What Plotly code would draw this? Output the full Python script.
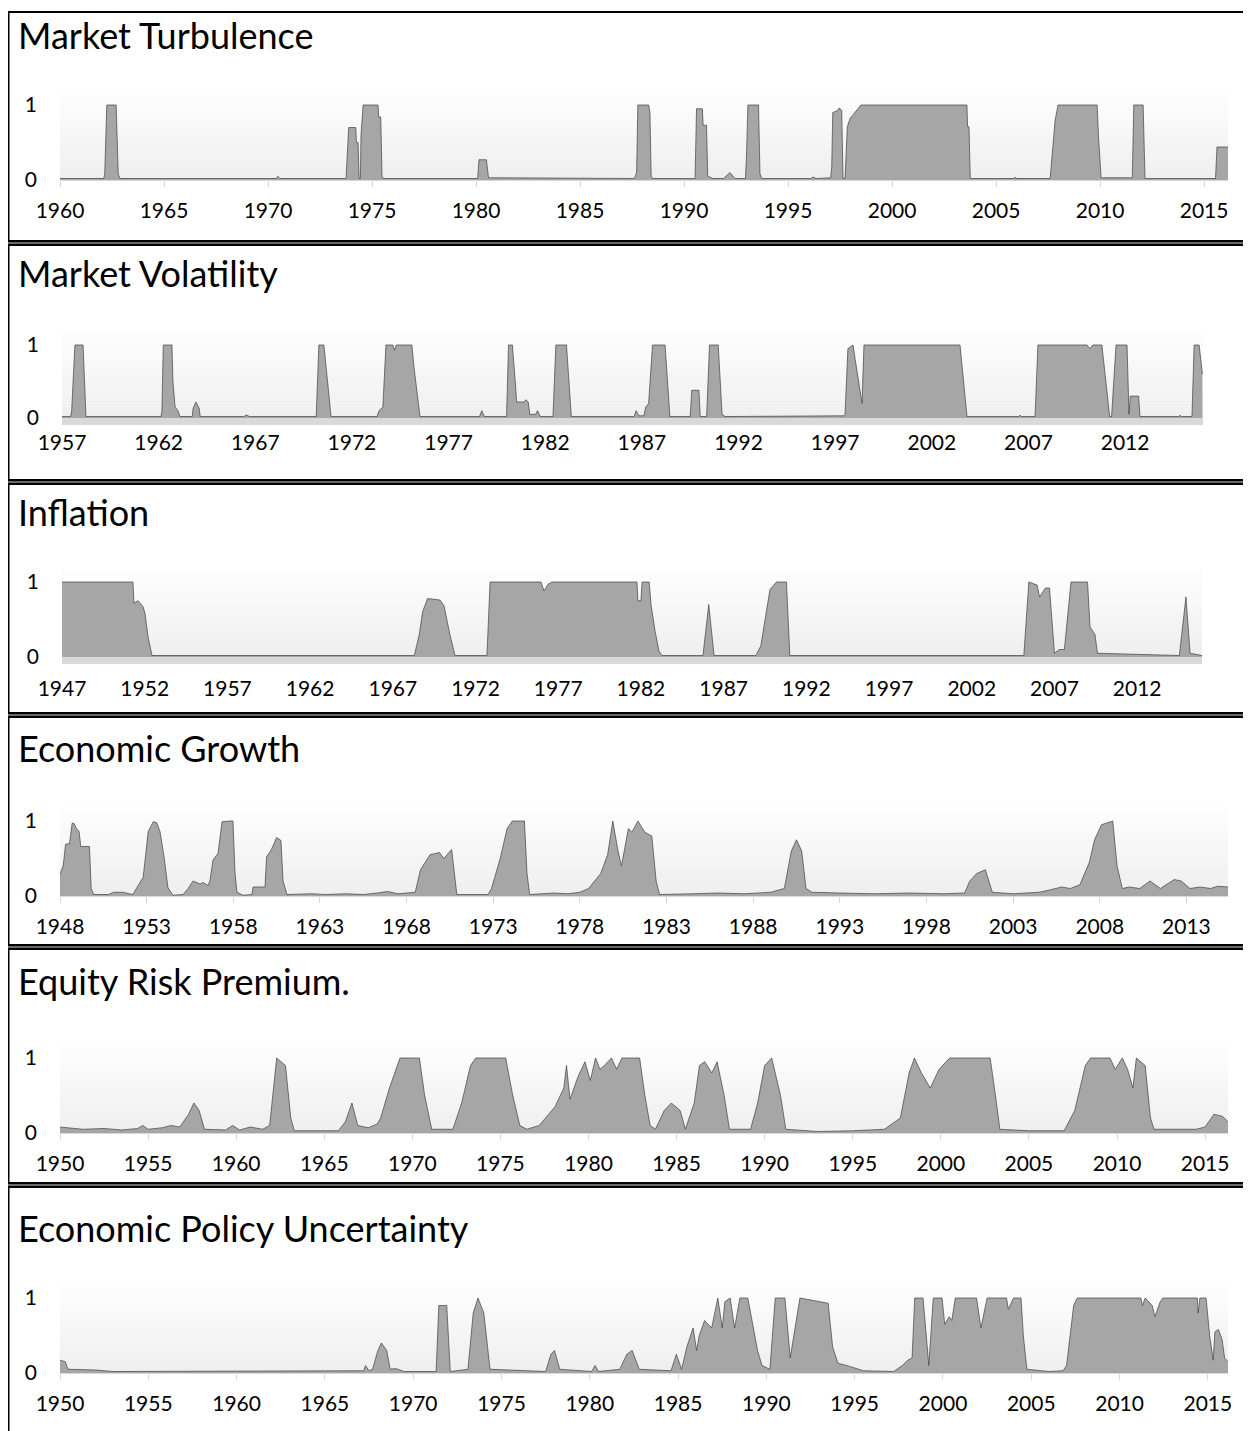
import plotly.graph_objects as go

# ---------------- data (decimal year, regime probability) ----------------
turbulence = [
    (1960.0, 0.02), (1962.1, 0.02), (1962.15, 0.08), (1962.25, 1.0), (1962.7, 1.0), (1962.8, 0.08),
    (1962.88, 0.02), (1970.4, 0.02), (1970.48, 0.05), (1970.56, 0.02), (1973.75, 0.02), (1973.8, 0.3),
    (1973.88, 0.7), (1974.22, 0.7), (1974.25, 0.5), (1974.33, 0.5), (1974.38, 0.02), (1974.44, 0.02),
    (1974.47, 0.6), (1974.57, 1.0), (1975.29, 1.0), (1975.32, 0.84), (1975.42, 0.84), (1975.48, 0.05),
    (1975.55, 0.02), (1980.08, 0.02), (1980.14, 0.27), (1980.5, 0.27), (1980.6, 0.03), (1987.62, 0.02),
    (1987.72, 0.1), (1987.78, 1.0), (1988.3, 1.0), (1988.36, 0.9), (1988.42, 0.05), (1988.5, 0.02),
    (1990.53, 0.02), (1990.6, 0.95), (1990.88, 0.95), (1990.92, 0.73), (1991.08, 0.73), (1991.14, 0.05),
    (1991.4, 0.02), (1991.9, 0.02), (1992.2, 0.1), (1992.45, 0.02), (1992.95, 0.02), (1993.0, 0.3),
    (1993.07, 1.0), (1993.58, 1.0), (1993.65, 0.08), (1993.75, 0.02), (1996.1, 0.02), (1996.2, 0.04),
    (1996.35, 0.02), (1997.05, 0.03), (1997.1, 0.17), (1997.15, 0.9), (1997.4, 0.93), (1997.45, 0.96),
    (1997.58, 0.93), (1997.64, 0.02), (1997.74, 0.02), (1997.85, 0.71), (1997.98, 0.82), (1998.1, 0.86),
    (1998.5, 1.0), (2003.6, 1.0), (2003.63, 0.71), (2003.7, 0.71), (2003.76, 0.02), (2005.85, 0.02),
    (2005.9, 0.04), (2005.95, 0.02), (2007.6, 0.02), (2007.84, 0.8), (2007.98, 1.0), (2009.86, 1.0),
    (2009.92, 0.6), (2010.05, 0.03), (2011.55, 0.03), (2011.62, 1.0), (2012.07, 1.0), (2012.16, 0.02),
    (2015.55, 0.02), (2015.62, 0.44), (2016.15, 0.44),
]

volatility = [
    (1957.0, 0.02), (1957.45, 0.02), (1957.5, 0.1), (1957.67, 1.0), (1958.09, 1.0), (1958.24, 0.02),
    (1962.12, 0.02), (1962.17, 0.1), (1962.24, 1.0), (1962.69, 1.0), (1962.74, 0.5), (1962.85, 0.15),
    (1963.0, 0.1), (1963.1, 0.02), (1963.74, 0.02), (1963.78, 0.13), (1963.93, 0.22), (1964.1, 0.13),
    (1964.15, 0.02), (1966.4, 0.02), (1966.55, 0.04), (1966.7, 0.02), (1970.15, 0.02), (1970.29, 1.0),
    (1970.55, 1.0), (1970.92, 0.02), (1973.3, 0.02), (1973.4, 0.1), (1973.6, 0.15), (1973.76, 1.0),
    (1974.12, 1.0), (1974.2, 0.93), (1974.3, 1.0), (1975.1, 1.0), (1975.21, 0.7), (1975.37, 0.35),
    (1975.52, 0.02), (1978.6, 0.02), (1978.72, 0.1), (1978.85, 0.02), (1980.0, 0.02), (1980.1, 1.0),
    (1980.3, 1.0), (1980.45, 0.5), (1980.52, 0.22), (1980.9, 0.22), (1981.0, 0.25), (1981.12, 0.22),
    (1981.2, 0.05), (1981.5, 0.05), (1981.6, 0.1), (1981.75, 0.02), (1982.4, 0.02), (1982.55, 1.0),
    (1983.1, 1.0), (1983.35, 0.02), (1986.6, 0.02), (1986.7, 0.1), (1986.85, 0.03), (1987.1, 0.03),
    (1987.2, 0.15), (1987.35, 0.2), (1987.55, 1.0), (1988.2, 1.0), (1988.45, 0.02), (1989.5, 0.02),
    (1989.58, 0.38), (1989.95, 0.38), (1990.02, 0.02), (1990.35, 0.02), (1990.5, 1.0), (1990.95, 1.0),
    (1991.15, 0.05), (1991.3, 0.02), (1997.45, 0.03), (1997.51, 0.05), (1997.66, 0.95), (1997.92, 1.0),
    (1998.39, 0.2), (1998.49, 1.0), (2003.46, 1.0), (2003.82, 0.02), (2006.5, 0.02), (2006.56, 0.04),
    (2006.62, 0.02), (2007.34, 0.02), (2007.49, 1.0), (2010.03, 1.0), (2010.18, 0.95), (2010.33, 1.0),
    (2010.8, 1.0), (2011.2, 0.02), (2011.3, 0.02), (2011.53, 1.0), (2012.1, 1.0), (2012.2, 0.05),
    (2012.27, 0.3), (2012.7, 0.3), (2012.77, 0.02), (2014.8, 0.02), (2014.85, 0.04), (2014.9, 0.02),
    (2015.46, 0.02), (2015.57, 1.0), (2015.83, 1.0), (2016.0, 0.6),
]

inflation = [
    (1947.0, 1.0), (1951.29, 1.0), (1951.35, 0.72), (1951.6, 0.75), (1951.9, 0.67), (1952.02, 0.58),
    (1952.2, 0.27), (1952.44, 0.02), (1968.3, 0.02), (1968.6, 0.3), (1968.8, 0.6), (1969.1, 0.78),
    (1969.85, 0.76), (1970.1, 0.68), (1970.45, 0.3), (1970.76, 0.02), (1972.69, 0.02), (1972.88, 1.0),
    (1975.96, 1.0), (1976.14, 0.88), (1976.38, 0.97), (1976.63, 1.0), (1981.76, 1.0), (1981.82, 0.75),
    (1982.0, 0.75), (1982.07, 1.0), (1982.5, 1.0), (1982.61, 0.7), (1982.85, 0.35), (1983.09, 0.08),
    (1983.27, 0.02), (1985.75, 0.02), (1986.1, 0.7), (1986.42, 0.02), (1988.95, 0.02), (1989.25, 0.15),
    (1989.8, 0.9), (1990.2, 1.0), (1990.8, 1.0), (1991.0, 0.02), (2005.15, 0.02), (2005.45, 1.0),
    (2005.95, 0.96), (2006.1, 0.8), (2006.45, 0.92), (2006.7, 0.92), (2007.0, 0.05), (2007.3, 0.1),
    (2007.6, 0.1), (2008.0, 1.0), (2009.0, 1.0), (2009.15, 0.4), (2009.45, 0.3), (2009.6, 0.05),
    (2014.55, 0.02), (2014.95, 0.8), (2015.2, 0.05), (2015.92, 0.02),
]

growth = [
    (1948.0, 0.29), (1948.19, 0.41), (1948.32, 0.69), (1948.55, 0.7), (1948.7, 0.97), (1948.8, 0.97),
    (1948.95, 0.9), (1949.1, 0.86), (1949.2, 0.66), (1949.7, 0.66), (1949.8, 0.1), (1949.95, 0.02),
    (1950.8, 0.02), (1951.1, 0.05), (1951.6, 0.05), (1951.9, 0.03), (1952.2, 0.02), (1952.8, 0.25),
    (1953.09, 0.86), (1953.38, 0.99), (1953.58, 0.98), (1953.77, 0.86), (1954.0, 0.53), (1954.23, 0.11),
    (1954.52, 0.01), (1955.1, 0.02), (1955.39, 0.1), (1955.68, 0.2), (1956.08, 0.16), (1956.25, 0.18),
    (1956.54, 0.14), (1956.65, 0.2), (1956.83, 0.48), (1957.12, 0.57), (1957.35, 0.99), (1957.81, 1.0),
    (1957.98, 1.0), (1958.1, 0.31), (1958.21, 0.05), (1958.56, 0.01), (1959.08, 0.02), (1959.14, 0.12),
    (1959.83, 0.12), (1959.92, 0.52), (1960.2, 0.62), (1960.5, 0.78), (1960.75, 0.74), (1960.87, 0.2),
    (1961.1, 0.02), (1962.5, 0.03), (1963.3, 0.02), (1964.5, 0.03), (1965.5, 0.02), (1966.3, 0.04),
    (1966.9, 0.06), (1967.5, 0.03), (1968.5, 0.05), (1968.8, 0.35), (1969.35, 0.55), (1969.9, 0.58),
    (1970.15, 0.5), (1970.6, 0.62), (1970.9, 0.02), (1972.7, 0.02), (1972.9, 0.1), (1973.4, 0.5),
    (1973.8, 0.9), (1974.1, 1.0), (1974.8, 1.0), (1974.95, 0.3), (1975.1, 0.02), (1976.5, 0.04),
    (1977.3, 0.03), (1978.0, 0.05), (1978.5, 0.1), (1979.2, 0.3), (1979.6, 0.55), (1979.9, 1.0),
    (1980.2, 0.6), (1980.4, 0.4), (1980.8, 0.9), (1981.0, 0.85), (1981.35, 1.0), (1981.75, 0.85),
    (1982.15, 0.8), (1982.4, 0.2), (1982.6, 0.02), (1984.5, 0.03), (1986.0, 0.04), (1987.5, 0.03),
    (1989.0, 0.05), (1989.8, 0.1), (1990.2, 0.6), (1990.5, 0.75), (1990.8, 0.6), (1991.05, 0.1),
    (1991.4, 0.05), (1993.0, 0.04), (1995.0, 0.03), (1997.0, 0.04), (1999.0, 0.03), (2000.2, 0.04),
    (2000.5, 0.2), (2000.9, 0.3), (2001.4, 0.35), (2001.6, 0.2), (2001.8, 0.05), (2003.0, 0.03),
    (2004.5, 0.05), (2005.1, 0.08), (2005.8, 0.12), (2006.3, 0.1), (2006.85, 0.15), (2007.4, 0.45),
    (2007.7, 0.75), (2008.1, 0.95), (2008.75, 1.0), (2009.0, 0.4), (2009.3, 0.1), (2009.7, 0.12),
    (2010.3, 0.1), (2010.6, 0.15), (2010.9, 0.2), (2011.5, 0.1), (2012.3, 0.22), (2012.7, 0.2),
    (2013.2, 0.1), (2013.8, 0.12), (2014.4, 0.1), (2014.8, 0.13), (2015.4, 0.12),
]

risk_premium = [
    (1950.0, 0.08), (1950.5, 0.07), (1951.3, 0.05), (1952.5, 0.06), (1953.5, 0.04), (1954.4, 0.06),
    (1954.7, 0.1), (1955.0, 0.05), (1955.8, 0.07), (1956.3, 0.1), (1956.8, 0.08), (1957.3, 0.25),
    (1957.6, 0.4), (1957.9, 0.3), (1958.2, 0.05), (1959.4, 0.04), (1959.8, 0.1), (1960.2, 0.04),
    (1960.8, 0.08), (1961.5, 0.05), (1961.9, 0.1), (1962.3, 1.0), (1962.8, 0.9), (1963.1, 0.2),
    (1963.3, 0.03), (1965.8, 0.03), (1966.2, 0.15), (1966.57, 0.4), (1966.9, 0.1), (1967.5, 0.07),
    (1968.0, 0.12), (1968.2, 0.2), (1968.7, 0.6), (1969.3, 1.0), (1970.4, 1.0), (1970.7, 0.5),
    (1971.1, 0.05), (1972.3, 0.05), (1972.8, 0.4), (1973.3, 0.9), (1973.6, 1.0), (1975.3, 1.0),
    (1975.7, 0.5), (1976.1, 0.1), (1976.5, 0.05), (1977.2, 0.1), (1978.1, 0.35), (1978.6, 0.6),
    (1978.75, 0.9), (1978.95, 0.45), (1979.4, 0.75), (1979.8, 0.95), (1980.1, 0.7), (1980.4, 1.0),
    (1980.65, 0.85), (1980.9, 0.9), (1981.3, 1.0), (1981.6, 0.85), (1981.9, 1.0), (1982.9, 1.0),
    (1983.2, 0.5), (1983.5, 0.1), (1983.8, 0.05), (1984.3, 0.3), (1984.7, 0.4), (1985.2, 0.3),
    (1985.5, 0.05), (1986.0, 0.4), (1986.3, 0.9), (1986.6, 0.95), (1987.0, 0.8), (1987.3, 0.95),
    (1987.7, 0.5), (1988.0, 0.05), (1989.2, 0.05), (1989.6, 0.4), (1990.0, 0.9), (1990.4, 1.0),
    (1990.9, 0.5), (1991.2, 0.05), (1993.0, 0.02), (1995.0, 0.03), (1996.8, 0.05), (1997.7, 0.2),
    (1998.2, 0.8), (1998.5, 1.0), (1998.9, 0.8), (1999.4, 0.6), (1999.9, 0.85), (2000.5, 1.0),
    (2002.8, 1.0), (2003.1, 0.5), (2003.35, 0.05), (2005.0, 0.03), (2007.0, 0.03), (2007.6, 0.3),
    (2008.2, 0.9), (2008.5, 1.0), (2009.6, 1.0), (2009.9, 0.85), (2010.3, 1.0), (2010.6, 0.85),
    (2010.9, 0.6), (2011.1, 1.0), (2011.6, 0.9), (2011.9, 0.2), (2012.1, 0.05), (2014.5, 0.05),
    (2015.0, 0.08), (2015.5, 0.25), (2016.0, 0.22), (2016.3, 0.15),
]

policy_uncertainty = [
    (1950.0, 0.17), (1950.3, 0.15), (1950.45, 0.05), (1951.5, 0.05), (1952.0, 0.04), (1953.0, 0.02),
    (1955.0, 0.02), (1960.0, 0.02), (1965.0, 0.02), (1967.2, 0.03), (1967.3, 0.1), (1967.5, 0.03),
    (1967.7, 0.05), (1968.0, 0.3), (1968.2, 0.4), (1968.5, 0.3), (1968.7, 0.05), (1969.0, 0.06),
    (1969.5, 0.02), (1971.3, 0.02), (1971.45, 0.9), (1971.9, 0.9), (1972.1, 0.02), (1973.1, 0.05),
    (1973.4, 0.8), (1973.67, 1.0), (1974.0, 0.8), (1974.35, 0.05), (1977.5, 0.02), (1977.8, 0.25),
    (1978.0, 0.3), (1978.3, 0.05), (1980.1, 0.02), (1980.3, 0.1), (1980.5, 0.02), (1981.7, 0.05),
    (1982.1, 0.25), (1982.4, 0.3), (1982.8, 0.05), (1984.6, 0.03), (1984.9, 0.25), (1985.2, 0.05),
    (1985.5, 0.35), (1985.85, 0.6), (1986.05, 0.3), (1986.2, 0.5), (1986.5, 0.7), (1986.9, 0.6),
    (1987.25, 1.0), (1987.5, 0.6), (1987.65, 0.95), (1987.95, 1.0), (1988.2, 0.6), (1988.5, 1.0),
    (1988.95, 1.0), (1989.2, 0.7), (1989.5, 0.3), (1989.75, 0.1), (1990.2, 0.05), (1990.5, 1.0),
    (1991.05, 1.0), (1991.35, 0.2), (1991.7, 0.7), (1991.9, 1.0), (1993.5, 0.93), (1993.75, 0.35),
    (1994.05, 0.13), (1994.55, 0.1), (1995.5, 0.03), (1997.2, 0.02), (1997.7, 0.1), (1998.0, 0.17),
    (1998.25, 0.2), (1998.4, 1.0), (1998.87, 1.0), (1999.1, 0.3), (1999.2, 0.1), (1999.45, 1.0),
    (1999.95, 1.0), (2000.1, 0.65), (2000.35, 0.75), (2000.5, 0.7), (2000.7, 1.0), (2001.9, 1.0),
    (2002.15, 0.6), (2002.5, 1.0), (2003.6, 1.0), (2003.7, 0.85), (2004.0, 1.0), (2004.42, 1.0),
    (2004.55, 0.5), (2004.75, 0.05), (2006.0, 0.02), (2006.8, 0.03), (2007.0, 0.1), (2007.2, 0.5),
    (2007.4, 0.9), (2007.6, 1.0), (2011.2, 1.0), (2011.3, 0.9), (2011.45, 1.0), (2011.85, 0.9),
    (2012.0, 0.75), (2012.3, 0.95), (2012.45, 1.0), (2014.4, 1.0), (2014.45, 0.8), (2014.55, 1.0),
    (2014.9, 1.0), (2015.1, 0.5), (2015.3, 0.17), (2015.4, 0.55), (2015.6, 0.58), (2015.8, 0.45),
    (2015.95, 0.2), (2016.14, 0.15),
]

titles = ["Market Turbulence", "Market Volatility", "Inflation", "Economic Growth",
          "Equity Risk Premium.", "Economic Policy Uncertainty"]
series = [turbulence, volatility, inflation, growth, risk_premium, policy_uncertainty]
first_tick_year = [1960, 1957, 1947, 1948, 1950, 1950]
last_tick_year = [2015, 2012, 2012, 2013, 2015, 2015]
y_ticks = [0, 1]

# ---------------- layout geometry (target screen pixels) ----------------
W, H = 1251, 1431
OFF = 8  # page body margin offset of the rendered figure
geom = [
    # x0px, x1px, xr0, xr1, y0px(value 0), y1px(value 1), title y, floor band, tick-label standoff
    (60, 1228, 1960, 2016.15, 180, 105, 35, False, 6),
    (62, 1203, 1957, 2016.03, 418, 345, 273, True, 3),
    (62, 1202, 1947, 2015.92, 657, 582, 512, True, 10),
    (60, 1228, 1948, 2015.40, 896, 821, 748, False, 6),
    (60, 1228, 1950, 2016.30, 1133, 1058, 981, False, 6),
    (60, 1228, 1950, 2016.14, 1373, 1298, 1228, False, 6),
]
separators = [243, 482, 715, 947, 1185]

FONT = "Lato"
fig = go.Figure()
shapes = []
annotations = []
layout_axes = {}


def fy(p):
    return 1 - (p - OFF) / H


def fx(p):
    return (p - OFF) / W


for i, (data, title, ft, lt, g) in enumerate(zip(series, titles, first_tick_year, last_tick_year, geom), start=1):
    x0p, x1p, xr0, xr1, y0p, y1p, tyy, band, stand = g
    ppu = y0p - y1p
    ylo = -0.095 if band else 0.0
    yhi = 1.2
    bot = y0p - ylo * ppu
    top = y0p - yhi * ppu
    xs = [d[0] for d in data]
    ys = [d[1] for d in data]
    xa = "x" if i == 1 else f"x{i}"
    ya = "y" if i == 1 else f"y{i}"
    fig.add_trace(go.Scatter(
        x=xs, y=ys, mode="lines", fill="tozeroy", fillcolor="#a6a6a6",
        line=dict(color="#404040", width=0.7), xaxis=xa, yaxis=ya,
        hoverinfo="x+y", showlegend=False))
    tv = list(range(ft, lt + 1, 5))
    layout_axes["xaxis" if i == 1 else f"xaxis{i}"] = dict(
        domain=[fx(x0p), fx(x1p)], range=[xr0, xr1], anchor=ya, automargin=False,
        tickvals=tv, ticktext=[str(v) for v in tv],
        showgrid=False, zeroline=False,
        showline=not band, linecolor="#d9d9d9", linewidth=1,
        ticks="" if band else "outside", ticklen=6, tickcolor="#d9d9d9",
        ticklabelstandoff=stand,
        tickfont=dict(family=FONT, size=21, color="#000000"), fixedrange=True)
    layout_axes["yaxis" if i == 1 else f"yaxis{i}"] = dict(
        domain=[fy(bot), fy(top)], range=[ylo, yhi], anchor=xa, automargin=False,
        tickvals=y_ticks, ticktext=[str(v) for v in y_ticks],
        showgrid=False, zeroline=False, showline=False, ticks="",
        ticklabelstandoff=22,
        tickfont=dict(family=FONT, size=21, color="#000000"), fixedrange=True)
    # gradient background
    nb = 30
    for k in range(nb):
        t = k / nb
        c = int(239 + (255 - 239) * t)
        shapes.append(dict(type="rect", xref=f"{xa} domain", yref=ya,
                           x0=0, x1=1, y0=yhi * k / nb, y1=yhi * (k + 1) / nb,
                           fillcolor=f"rgb({c},{c},{c})", line=dict(width=0), layer="below"))
    if band:
        shapes.append(dict(type="rect", xref=f"{xa} domain", yref=ya, x0=0, x1=1,
                           y0=ylo, y1=0, fillcolor="#d9d9d9", line=dict(width=0), layer="below"))
    annotations.append(dict(text=title, xref="paper", yref="paper", x=fx(16), y=fy(tyy),
                            xanchor="left", yanchor="middle", showarrow=False,
                            font=dict(family=FONT, size=36, color="#000000")))

# frame lines
shapes.append(dict(type="line", xref="paper", yref="paper", x0=fx(8), x1=fx(8), y0=-0.02, y1=fy(11),
                   line=dict(color="#000000", width=3)))
shapes.append(dict(type="line", xref="paper", yref="paper", x0=fx(7), x1=1.02, y0=fy(12), y1=fy(12),
                   line=dict(color="#000000", width=2)))
for s in separators:
    shapes.append(dict(type="line", xref="paper", yref="paper", x0=fx(7), x1=1.02, y0=fy(s), y1=fy(s),
                       line=dict(color="#000000", width=6)))
    shapes.append(dict(type="line", xref="paper", yref="paper", x0=fx(7), x1=1.02, y0=fy(s), y1=fy(s),
                       line=dict(color="#8c8c8c", width=1.5)))

fig.update_layout(
    template="none",
    width=W, height=H, autosize=False,
    margin=dict(l=0, r=0, t=0, b=0, autoexpand=False),
    paper_bgcolor="#ffffff", plot_bgcolor="#ffffff",
    shapes=shapes, annotations=annotations, showlegend=False,
    font=dict(family=FONT, color="#000000"),
    **layout_axes,
)

fig.write_html("out.html")
